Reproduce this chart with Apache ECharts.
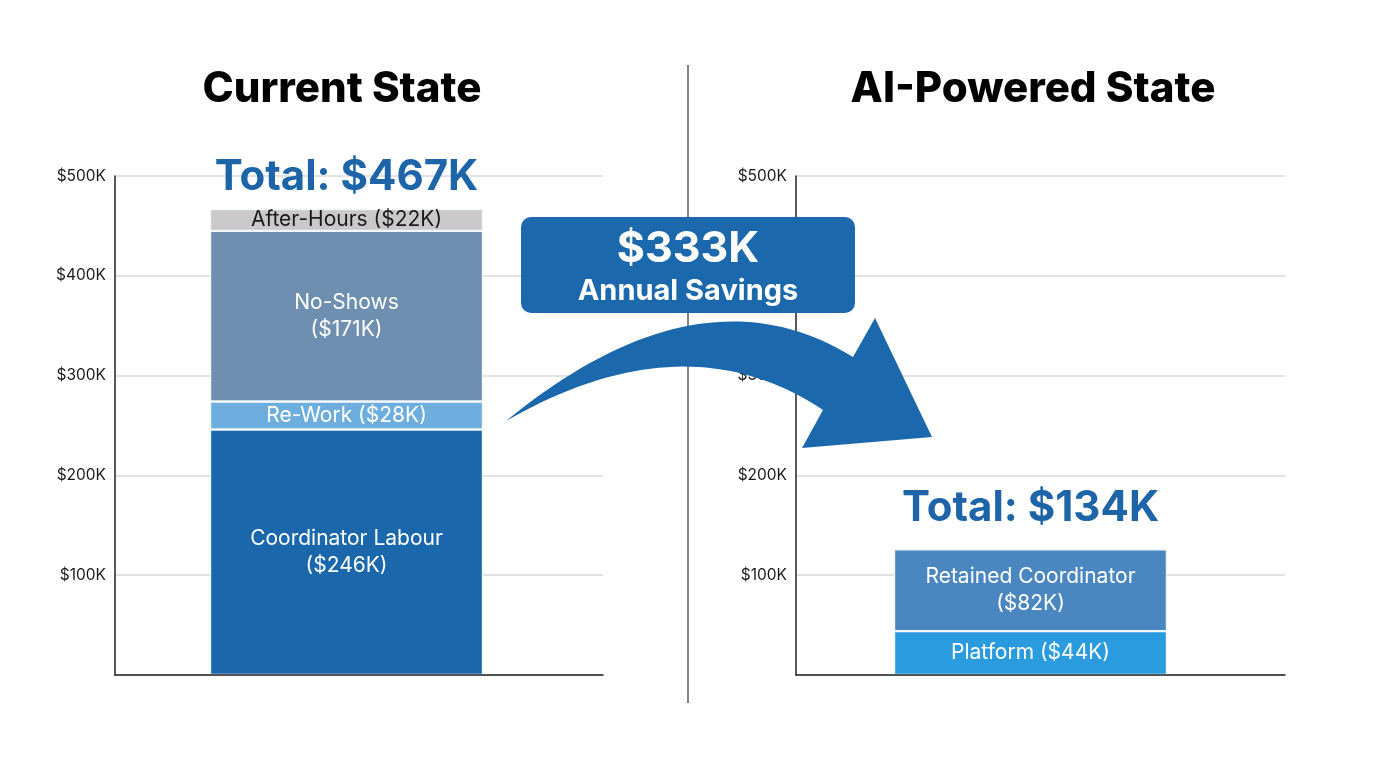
<!DOCTYPE html>
<html><head><meta charset="utf-8">
<script src="https://cdn.jsdelivr.net/npm/echarts@6/dist/echarts.min.js"></script>
<style>html,body{margin:0;padding:0;background:#fff;}#c{width:1376px;height:768px;}</style>
</head><body><div id="c"></div>
<script>
// ---- data ----
const panelTitles = ['Current State', 'AI-Powered State'];
const currentNames = ['Coordinator Labour', 'Re-Work', 'No-Shows', 'After-Hours'];
const currentValues = [246, 28, 171, 22];            // $K
const aiNames = ['Platform', 'Retained Coordinator'];
const aiValues = [44, 82];                            // $K
const aiTotalLabel = 134;                             // $K as printed
const savingsValue = 333;                             // $K
const yTicks = [0, 100, 200, 300, 400, 500];

// ---- styles ----
const FONT = 'Inter, "Noto Sans", sans-serif';
const currentColors = ['#1a67ab', '#6eaede', '#6e8fb0', '#c9c9c9'];
const currentText = ['#ffffff', '#ffffff', '#ffffff', '#1a1a1a'];
const aiColors = ['#2b9be0', '#4a86bf'];
const labelFmt = {
  'Coordinator Labour': n => 'Coordinator Labour\n($' + n + 'K)',
  'No-Shows': n => 'No-Shows\n($' + n + 'K)',
  'Retained Coordinator': n => 'Retained Coordinator\n($' + n + 'K)'
};
function fmt(name, v) { return labelFmt[name] ? labelFmt[name](v) : name + ' ($' + v + 'K)'; }

// decorative curved arrow outline (quadratic edges sampled)
function quad(p0, c, p2, n) {
  const pts = [];
  for (let i = 0; i <= n; i++) {
    const t = i / n, u = 1 - t;
    pts.push([u*u*p0[0] + 2*u*t*c[0] + t*t*p2[0], u*u*p0[1] + 2*u*t*c[1] + t*t*p2[1]]);
  }
  return pts;
}
const arrowPts = [].concat(
  quad([506, 421], [700, 262], [853, 357], 40),
  [[875, 318], [932, 437], [802, 448]],
  quad([823, 410], [685, 318], [506, 421], 40)
);

const chart = echarts.init(document.getElementById('c'), null, {renderer: 'canvas'});

const frameY = (gi) => ({
  type: 'value', gridIndex: gi, min: yTicks[0], max: yTicks[yTicks.length - 1], interval: 100,
  axisLine: {show: true, lineStyle: {color: '#222', width: 1.5}},
  axisTick: {show: false},
  splitLine: {lineStyle: {color: '#d9d9d9', width: 1.5}},
  axisLabel: {color: '#1a1a1a', fontSize: 15.5, fontFamily: FONT, margin: 9,
    formatter: v => v === 0 ? '' : '$' + v + 'K'}
});
const frameX = (gi) => ({
  type: 'category', gridIndex: gi, data: [''],
  axisLine: {show: true, lineStyle: {color: '#222', width: 1.5}},
  axisTick: {show: false}, axisLabel: {show: false}, z: 5
});
const barY = (gi) => ({type: 'value', gridIndex: gi, min: 0, max: 500, show: false});
const barX = (gi, name) => ({type: 'category', gridIndex: gi, data: [name], show: false});

const series = [];
currentNames.forEach((n, i) => {
  series.push({
    type: 'bar', name: n, xAxisIndex: 1, yAxisIndex: 1, stack: 'cur', barWidth: '100%',
    data: [currentValues[i]],
    itemStyle: {color: currentColors[i], borderColor: '#f2f7fc', borderWidth: 1.2},
    label: {show: true, position: 'inside', color: currentText[i], fontSize: 21, fontFamily: FONT,
      lineHeight: 27, formatter: () => fmt(n, currentValues[i])}
  });
});
aiNames.forEach((n, i) => {
  series.push({
    type: 'bar', name: n, xAxisIndex: 3, yAxisIndex: 3, stack: 'ai', barWidth: '100%',
    data: [aiValues[i]],
    itemStyle: {color: aiColors[i], borderColor: '#f2f7fc', borderWidth: 1.2},
    label: {show: true, position: 'inside', color: '#ffffff', fontSize: 21, fontFamily: FONT,
      lineHeight: 27, formatter: () => fmt(n, aiValues[i])}
  });
});
const curTotal = currentValues.reduce((a, b) => a + b, 0);
const aiSum = aiValues.reduce((a, b) => a + b, 0);
const totalLabel = {show: true, position: 'top', color: '#1d65a8', fontSize: 42, fontWeight: 'bold',
  fontFamily: FONT};
series.push({
  type: 'scatter', xAxisIndex: 1, yAxisIndex: 1, symbolSize: 0, data: [[panelTitles[0], curTotal]],
  itemStyle: {opacity: 1},
  label: Object.assign({}, totalLabel, {distance: 11, formatter: 'Total: $' + curTotal + 'K'}), z: 10
});
series.push({
  type: 'scatter', xAxisIndex: 3, yAxisIndex: 3, symbolSize: 0, data: [[panelTitles[1], aiSum]],
  itemStyle: {opacity: 1},
  label: Object.assign({}, totalLabel, {distance: 20, formatter: 'Total: $' + aiTotalLabel + 'K'}), z: 10
});

chart.setOption({
  backgroundColor: '#ffffff',
  animation: false,
  title: [
    {text: panelTitles[0], left: 337, top: 63, textAlign: 'center',
      textStyle: {fontSize: 42, fontWeight: 800, color: '#000', fontFamily: FONT}},
    {text: panelTitles[1], left: 1028, top: 63, textAlign: 'center',
      textStyle: {fontSize: 42, fontWeight: 800, color: '#000', fontFamily: FONT}}
  ],
  grid: [
    {left: 115, width: 488, top: 176, bottom: 93},
    {left: 210, width: 273, top: 176, bottom: 93},
    {left: 796, width: 489, top: 176, bottom: 93},
    {left: 894, width: 273, top: 176, bottom: 93}
  ],
  xAxis: [frameX(0), barX(1, panelTitles[0]), frameX(2), barX(3, panelTitles[1])],
  yAxis: [frameY(0), barY(1), frameY(2), barY(3)],
  series: series,
  graphic: [
    {type: 'line', z: 1, shape: {x1: 688, y1: 65, x2: 688, y2: 703},
      style: {stroke: '#333', lineWidth: 1.2}},
    {type: 'polygon', z: 100, shape: {points: arrowPts}, style: {fill: '#1b68ad'}},
    {type: 'rect', z: 100, shape: {x: 521, y: 217, width: 334, height: 96, r: 10},
      style: {fill: '#1b68ad'}},
    {type: 'text', z: 101, x: 688, y: 249, style: {text: '$' + savingsValue + 'K', fill: '#fff',
      font: 'bold 43px ' + FONT, textAlign: 'center', textVerticalAlign: 'middle'}},
    {type: 'text', z: 101, x: 688, y: 291, style: {text: 'Annual Savings', fill: '#fff',
      font: 'bold 29px ' + FONT, textAlign: 'center', textVerticalAlign: 'middle'}}
  ]
});
</script></body></html>
